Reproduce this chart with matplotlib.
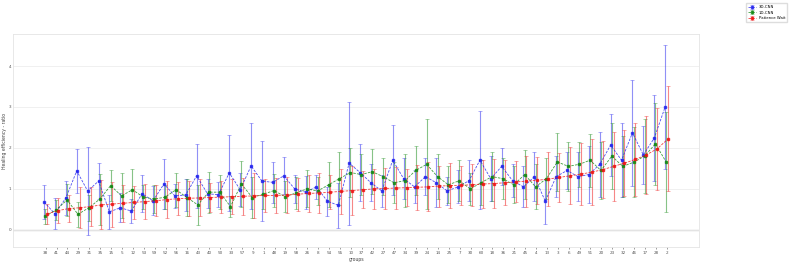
import numpy as np
import matplotlib
matplotlib.use('Agg')
import matplotlib.pyplot as plt
from matplotlib.colors import to_rgba

# group ids as they appear on the x axis (sorted by the red series)
groups = ['38', '41', '44', '29', '31', '35', '15', '5', '12', '53',
          '59', '52', '56', '16', '43', '40', '50', '33', '57', '9',
          '1', '48', '19', '58', '26', '8', '54', '55', '10', '37',
          '42', '27', '47', '34', '39', '24', '14', '25', '7', '30',
          '60', '18', '36', '21', '45', '4', '13', '3', '6', '49',
          '51', '20', '23', '32', '46', '17', '28', '2']

cnn3d_mean = [0.68, 0.39, 0.78, 1.44, 0.95, 1.19, 0.44, 0.54, 0.46, 0.88,
              0.71, 1.12, 0.83, 0.85, 1.32, 0.88, 0.86, 1.39, 0.98, 1.56,
              1.19, 1.16, 1.32, 1.00, 0.92, 1.05, 0.70, 0.60, 1.63, 1.40,
              1.15, 0.95, 1.70, 1.25, 1.05, 1.30, 1.15, 0.95, 1.05, 1.20,
              1.70, 1.25, 1.55, 1.20, 1.05, 1.30, 0.70, 1.30, 1.45, 1.30,
              1.35, 1.60, 2.07, 1.70, 2.37, 1.83, 2.24, 3.00]
cnn3d_err = [0.42, 0.38, 0.42, 0.53, 1.08, 0.44, 0.41, 0.35, 0.30, 0.45,
             0.35, 0.60, 0.30, 0.40, 0.78, 0.35, 0.30, 0.92, 0.40, 1.05,
             0.98, 0.50, 0.45, 0.35, 0.40, 0.30, 0.35, 0.55, 1.50, 0.70,
             0.45, 0.40, 0.85, 0.50, 0.40, 0.45, 0.60, 0.35, 0.40, 0.50,
             1.20, 0.55, 0.45, 0.40, 0.50, 0.60, 0.55, 0.50, 0.45, 0.60,
             0.70, 0.80, 0.75, 0.90, 1.30, 0.70, 1.05, 1.52]

cnn1d_mean = [0.33, 0.49, 0.73, 0.38, 0.54, 0.75, 1.08, 0.83, 0.98, 0.80,
              0.75, 0.80, 0.98, 0.79, 0.61, 0.92, 0.92, 0.57, 1.12, 0.79,
              0.87, 0.96, 0.81, 0.90, 1.00, 0.95, 1.10, 1.25, 1.40, 1.35,
              1.42, 1.30, 1.15, 1.20, 1.45, 1.60, 1.30, 1.10, 1.20, 1.00,
              1.15, 1.30, 1.25, 1.10, 1.35, 1.05, 1.25, 1.66, 1.55, 1.60,
              1.70, 1.45, 1.80, 1.55, 1.65, 1.80, 2.10, 1.65]
cnn1d_err = [0.18, 0.25, 0.40, 0.30, 0.32, 0.62, 0.37, 0.55, 0.50, 0.30,
             0.35, 0.30, 0.42, 0.45, 0.48, 0.50, 0.42, 0.25, 0.55, 0.50,
             0.35, 0.40, 0.38, 0.40, 0.45, 0.35, 0.55, 0.65, 0.60, 0.50,
             0.55, 0.45, 0.50, 0.65, 0.60, 1.10, 0.55, 0.45, 0.50, 0.40,
             0.55, 0.60, 0.50, 0.45, 0.60, 0.55, 0.50, 0.70, 0.60, 0.55,
             0.65, 0.70, 0.80, 0.75, 0.85, 0.90, 1.00, 1.22]

wait_mean = [0.39, 0.47, 0.52, 0.54, 0.57, 0.61, 0.63, 0.65, 0.67, 0.69,
             0.71, 0.74, 0.76, 0.77, 0.78, 0.79, 0.80, 0.81, 0.82, 0.83,
             0.84, 0.84, 0.85, 0.87, 0.89, 0.90, 0.92, 0.94, 0.96, 0.98,
             1.00, 1.01, 1.02, 1.03, 1.04, 1.05, 1.07, 1.08, 1.09, 1.10,
             1.12, 1.13, 1.15, 1.17, 1.19, 1.21, 1.24, 1.28, 1.32, 1.36,
             1.41, 1.47, 1.55, 1.63, 1.72, 1.83, 1.98, 2.22]
wait_err = [0.25, 0.30, 0.33, 0.50, 0.48, 0.60, 0.55, 0.45, 0.40, 0.42,
            0.38, 0.45, 0.40, 0.42, 0.45, 0.35, 0.40, 0.42, 0.45, 0.55,
            0.40, 0.42, 0.45, 0.40, 0.45, 0.50, 0.42, 0.55, 0.60, 0.45,
            0.48, 0.50, 0.52, 0.45, 0.55, 0.60, 0.50, 0.55, 0.48, 0.52,
            0.58, 0.60, 0.55, 0.50, 0.62, 0.58, 0.65, 0.60, 0.70, 0.75,
            0.80, 0.70, 0.85, 0.80, 0.90, 0.95, 1.00, 1.28]

series = [('3D-CNN', cnn3d_mean, cnn3d_err, '#2222ee', -0.15),
          ('1D-CNN', cnn1d_mean, cnn1d_err, '#118811', -0.04),
          ('Patience Wait', wait_mean, wait_err, '#ee1111', 0.12)]

fig = plt.figure(figsize=(7.89, 2.62), dpi=100)
ax = fig.add_axes([0.0165, 0.057, 0.870, 0.813])
x = np.arange(len(groups))

for name, m, e, c, off in series:
    ax.errorbar(x + off, m, yerr=e, fmt='s--', color=to_rgba(c, 0.8),
                ecolor=to_rgba(c, 0.5), markersize=1.6, linewidth=0.6,
                elinewidth=0.8, capsize=1.1, capthick=0.5,
                dashes=(3, 1.5), label=name)

ax.axhline(0, color='#b0b0b0', linewidth=0.9, zorder=0)
ax.set_xlim(-3, len(groups) + 2)
ax.set_ylim(-0.42, 4.78)
ax.set_yticks([0, 1, 2, 3, 4])
ax.set_xticks(x)
ax.set_xticklabels(groups)
ax.grid(axis='y', color='#eeeeee', linewidth=0.6)
ax.set_axisbelow(True)
for s in ax.spines.values():
    s.set_color('#e4e4e4')
    s.set_linewidth(0.6)
ax.tick_params(axis='both', labelsize=3.0, length=1.5, width=0.4,
               colors='#555555', pad=1.5)
ax.tick_params(axis='y', length=0)
ax.set_xlabel('groups', fontsize=3.3, color='#444444', labelpad=1)
ax.set_ylabel('Healing efficiency - ratio', fontsize=3.3, color='#444444',
              labelpad=1)

fig.legend(loc='upper right', bbox_to_anchor=(1.0, 0.995), fontsize=2.8,
           frameon=True, edgecolor='#dddddd', handlelength=2.0,
           borderpad=0.5, labelspacing=0.4, fancybox=False, framealpha=1)

fig.savefig('out.png', dpi=100)
